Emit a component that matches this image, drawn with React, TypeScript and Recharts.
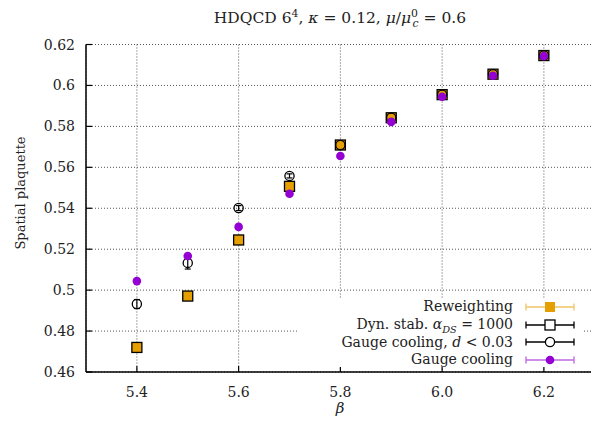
import React from 'react';
import { ScatterChart, Scatter, XAxis, YAxis, CartesianGrid, ErrorBar } from 'recharts';

const betas = [5.4, 5.5, 5.6, 5.7, 5.8, 5.9, 6.0, 6.1, 6.2];
const reweighting = [0.472, 0.4971, 0.5245, 0.5507, 0.5709, 0.5842, 0.5955, 0.6055, 0.6146];
const reweightingErr = [0.0012, 0.001, 0.0008, 0.0008, 0.0006, 0.0005, 0.0004, 0.0004, 0.0003];
const dynStab = [0.472, 0.4971, 0.5245, 0.5507, 0.5709, 0.5842, 0.5955, 0.6055, 0.6146];
const dynStabErr = [0.0012, 0.001, 0.0008, 0.0008, 0.0006, 0.0005, 0.0004, 0.0004, 0.0003];
const gcCut = [0.4932, 0.5133, 0.5401, 0.5558, 0.5709, 0.5842, 0.5955, 0.6055, 0.6146];
const gcCutErr = [0.0022, 0.003, 0.0012, 0.001, 0.0006, 0.0005, 0.0004, 0.0004, 0.0003];
const gc = [0.5044, 0.5167, 0.5309, 0.5471, 0.5655, 0.5822, 0.5945, 0.6047, 0.6143];
const gcErr = [0.0005, 0.0005, 0.0004, 0.0004, 0.0003, 0.0003, 0.0003, 0.0003, 0.0003];

const xTicks = [5.4, 5.6, 5.8, 6.0, 6.2];
const yTicks = [0.46, 0.48, 0.5, 0.52, 0.54, 0.56, 0.58, 0.6, 0.62];
const legendLabels = ['Reweighting', 'Dyn. stab. ', 'Gauge cooling, ', 'Gauge cooling'];

const ORANGE = '#e69f00';
const PURPLE = '#9400d3';
const FONT = "'DejaVu Serif'";

const mk = (vals: number[], errs: number[]) => betas.map((x, i) => ({ x, y: vals[i], err: errs[i] }));

const fmtY = (v: number) => String(Number(v.toFixed(2)));
const fmtX = (v: number) => v.toFixed(1);

const LeftTick = (p: any) => (
  <g>
    <line x1={p.x} x2={p.x + 6} y1={p.y} y2={p.y} stroke="#000" strokeWidth={1.2} />
    <text x={p.x - 11} y={p.y} dy="0.36em" textAnchor="end" style={{ fontFamily: FONT }} fontSize={14} fill="#222">
      {fmtY(p.payload.value)}
    </text>
  </g>
);
const BottomTick = (p: any) => (
  <g>
    <line x1={p.x} x2={p.x} y1={p.y} y2={p.y - 6} stroke="#000" strokeWidth={1.2} />
    <text x={p.x} y={p.y + 20} dy="0.36em" textAnchor="middle" style={{ fontFamily: FONT }} fontSize={14} fill="#222">
      {fmtX(p.payload.value)}
    </text>
  </g>
);
const TopTick = (p: any) => (
  <line x1={p.x} x2={p.x} y1={p.y} y2={p.y + 6} stroke="#000" strokeWidth={1.2} />
);
const RightTick = (p: any) => (
  <line x1={p.x} x2={p.x - 6} y1={p.y} y2={p.y} stroke="#000" strokeWidth={1.2} />
);

const OrangeSquare = (p: any) => (
  <rect x={p.cx - 5} y={p.cy - 5} width={10} height={10} fill={ORANGE} />
);
const OpenSquare = (p: any) => (
  <rect x={p.cx - 5} y={p.cy - 5} width={10} height={10} fill="none" stroke="#000" strokeWidth={1.3} />
);
const OpenCircle = (p: any) => (
  <circle cx={p.cx} cy={p.cy} r={4.6} fill="none" stroke="#000" strokeWidth={1.3} />
);
const PurpleDot = (p: any) => <circle cx={p.cx} cy={p.cy} r={4.3} fill={PURPLE} />;

const LegendSample = ({ kind }: { kind: number }) => {
  const color = kind === 0 ? ORANGE : kind === 3 ? PURPLE : '#000';
  const op = kind === 0 || kind === 3 ? 0.6 : 1;
  return (
    <svg width={50} height={14} style={{ display: 'block' }}>
      <g stroke={color} strokeWidth={1.3} opacity={op}>
        <line x1={1} x2={49} y1={7} y2={7} />
        <line x1={1} x2={1} y1={3.5} y2={10.5} />
        <line x1={49} x2={49} y1={3.5} y2={10.5} />
      </g>
      {kind === 0 && <rect x={20} y={2} width={10} height={10} fill={ORANGE} />}
      {kind === 1 && <rect x={20} y={2} width={10} height={10} fill="#fff" stroke="#000" strokeWidth={1.3} />}
      {kind === 2 && <circle cx={25} cy={7} r={4.6} fill="#fff" stroke="#000" strokeWidth={1.3} />}
      {kind === 3 && <circle cx={25} cy={7} r={4.3} fill={PURPLE} />}
    </svg>
  );
};

export default function App() {
  return (
    <div style={{ position: 'absolute', left: 0, top: 0, width: 591, height: 424, overflow: 'hidden', background: '#fff', fontFamily: FONT, color: '#222' }}>
      <ScatterChart width={600} height={424} margin={{ top: 44.5, right: 5.25, bottom: 0, left: 0 }}>
        <CartesianGrid stroke="#555" strokeDasharray="1 2" strokeWidth={1} />
        <XAxis type="number" dataKey="x" domain={[5.3, 6.3]} ticks={xTicks} interval={0} height={52}
          axisLine={{ stroke: '#000', strokeWidth: 1.5 }} tickLine={false} tickSize={0} tickMargin={0} tick={BottomTick} allowDataOverflow />
        <XAxis xAxisId="top" orientation="top" type="number" dataKey="x" domain={[5.3, 6.3]} ticks={xTicks} interval={0} height={0}
          axisLine={{ stroke: '#000', strokeWidth: 1.5 }} tickLine={false} tickSize={0} tickMargin={0} tick={TopTick} allowDataOverflow />
        <YAxis type="number" dataKey="y" domain={[0.46, 0.62]} ticks={yTicks} interval={0} width={86}
          axisLine={{ stroke: '#000', strokeWidth: 1.5 }} tickLine={false} tickSize={0} tickMargin={0} tick={LeftTick} allowDataOverflow />
        <YAxis yAxisId="right" orientation="right" type="number" dataKey="y" domain={[0.46, 0.62]} ticks={yTicks} interval={0} width={0}
          axisLine={{ stroke: '#000', strokeWidth: 1.5 }} tickLine={false} tickSize={0} tickMargin={0} tick={RightTick} allowDataOverflow />
        <Scatter data={mk(reweighting, reweightingErr)} shape={OrangeSquare} isAnimationActive={false}>
          <ErrorBar dataKey="err" direction="y" width={3} stroke={ORANGE} strokeWidth={1.2} />
        </Scatter>
        <Scatter data={mk(dynStab, dynStabErr)} shape={OpenSquare} isAnimationActive={false}>
          <ErrorBar dataKey="err" direction="y" width={3} stroke="#000" strokeWidth={1.2} />
        </Scatter>
        <Scatter data={mk(gcCut, gcCutErr)} shape={OpenCircle} isAnimationActive={false}>
          <ErrorBar dataKey="err" direction="y" width={3} stroke="#000" strokeWidth={1.2} />
        </Scatter>
        <Scatter data={mk(gc, gcErr)} shape={PurpleDot} isAnimationActive={false}>
          <ErrorBar dataKey="err" direction="y" width={2} stroke={PURPLE} strokeWidth={1.2} />
        </Scatter>
      </ScatterChart>

      <div style={{ position: 'absolute', left: 40, width: 600, top: 7, height: 22, lineHeight: '22px', textAlign: 'center', fontSize: 15.5 }}>
        HDQCD 6<sup style={{ fontSize: '0.7em', lineHeight: 0 }}>4</sup>, <i>κ</i> = 0.12, <i>μ</i>/<i>μ</i>
        <sup style={{ fontSize: '0.7em', lineHeight: 0 }}>0</sup>
        <sub style={{ fontSize: '0.7em', lineHeight: 0, marginLeft: '-0.5em' }}><i>c</i></sub> = 0.6
      </div>

      <div style={{ position: 'absolute', left: -79, top: 183, width: 200, height: 20, lineHeight: '20px', textAlign: 'center', fontSize: 13, transform: 'rotate(-90deg)' }}>
        Spatial plaquette
      </div>

      <div style={{ position: 'absolute', left: 240, top: 397, width: 200, height: 22, lineHeight: '22px', textAlign: 'center', fontSize: 15, fontStyle: 'italic' }}>
        β
      </div>

      <div style={{ position: 'absolute', left: 297, top: 298, width: 285, height: 69, background: '#fff' }}>
        {[0, 1, 2, 3].map((k) => (
          <div key={k} style={{ height: 17.7, display: 'flex', alignItems: 'center', justifyContent: 'flex-end', fontSize: 14, lineHeight: '17px', whiteSpace: 'nowrap' }}>
            <span>
              {legendLabels[k]}
              {k === 1 && (<><i>α</i><sub style={{ fontSize: '0.7em', lineHeight: 0 }}><i>DS</i></sub> = 1000</>)}
              {k === 2 && (<><i>d</i> &lt; 0.03</>)}
            </span>
            <span style={{ marginLeft: 12, marginRight: 7 }}><LegendSample kind={k} /></span>
          </div>
        ))}
      </div>
    </div>
  );
}
